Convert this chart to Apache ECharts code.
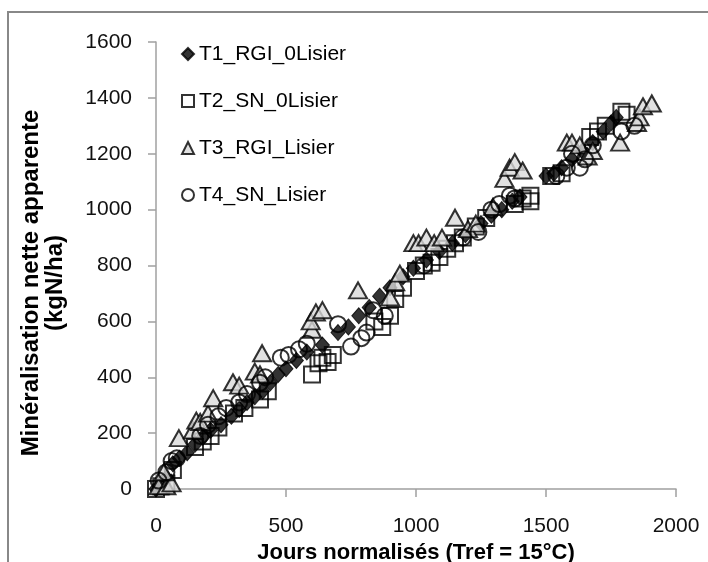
<!DOCTYPE html>
<html>
<head>
<meta charset="utf-8">
<script src="https://cdn.jsdelivr.net/npm/echarts@6/dist/echarts.min.js"></script>
<style>
html,body{margin:0;padding:0;background:#fff;}
#chart{width:708px;height:562px;}
</style>
</head>
<body>
<div id="chart"></div>
<script>
const seriesNames = ['T1_RGI_0Lisier', 'T2_SN_0Lisier', 'T3_RGI_Lisier', 'T4_SN_Lisier'];
const xTickValues = [0, 500, 1000, 1500, 2000];
const yTickValues = [0, 200, 400, 600, 800, 1000, 1200, 1400, 1600];
const xTitle = 'Jours normalisés (Tref = 15°C)';
const yTitle1 = 'Minéralisation nette apparente';
const yTitle2 = '(kgN/ha)';

const t1Data = [[0,0],[15,10],[40,40],[65,90],[90,110],[120,130],[150,160],[180,185],[210,210],[250,230],[290,260],[320,285],[350,310],[380,330],[410,350],[440,380],[470,410],[500,430],[540,460],[580,490],[640,515],[700,560],[740,580],[780,620],[820,650],[860,690],[900,720],[950,760],[990,790],[1040,820],[1090,850],[1140,880],[1190,910],[1250,950],[1290,980],[1330,1000],[1370,1030],[1400,1045],[1500,1120],[1530,1130],[1560,1150],[1600,1180],[1640,1210],[1680,1240],[1720,1280],[1750,1310],[1770,1330]];
const t2Data = [[0,0],[20,10],[40,20],[65,68],[150,150],[180,170],[210,190],[240,220],[300,270],[340,290],[400,320],[430,350],[600,410],[625,450],[640,470],[660,455],[680,480],[840,600],[870,580],[900,620],[920,680],[950,720],[1000,780],[1030,800],[1060,810],[1090,830],[1120,860],[1150,880],[1180,900],[1230,940],[1270,970],[1380,1020],[1410,1040],[1440,1050],[1440,1030],[1520,1120],[1560,1130],[1670,1260],[1700,1280],[1730,1300],[1790,1350],[1810,1340]];
const t3Data = [[10,10],[40,10],[60,20],[30,60],[88,182],[142,210],[155,245],[170,240],[200,270],[220,325],[296,382],[320,370],[380,420],[400,410],[408,486],[600,570],[595,600],[615,632],[640,640],[777,711],[900,686],[920,740],[938,771],[990,880],[1010,880],[1040,900],[1070,880],[1100,900],[1150,971],[1200,930],[1230,950],[1296,1010],[1340,1110],[1360,1150],[1380,1170],[1410,1140],[1580,1240],[1600,1240],[1630,1230],[1660,1190],[1680,1210],[1785,1240],[1850,1310],[1860,1330],[1873,1370],[1907,1380]];
const t4Data = [[10,30],[40,60],[60,100],[80,110],[170,190],[200,230],[240,260],[270,290],[320,310],[350,340],[400,380],[420,400],[480,470],[510,480],[550,500],[580,520],[700,590],[750,510],[790,540],[810,560],[835,640],[880,620],[1030,800],[1180,900],[1240,920],[1290,1000],[1320,1020],[1361,1050],[1380,1040],[1540,1120],[1580,1150],[1630,1150],[1650,1180],[1600,1200],[1680,1230],[1790,1280],[1840,1300]];

const FONT = '"Liberation Sans", Arial, sans-serif';
const chart = echarts.init(document.getElementById('chart'), null, {renderer: 'canvas'});

const option = {
  animation: false,
  backgroundColor: '#ffffff',
  grid: {left: 156, right: 32, top: 42, bottom: 73, containLabel: false, outerBoundsMode: 'none'},
  legend: {
    orient: 'vertical',
    left: 176,
    top: 37,
    itemWidth: 12,
    itemHeight: 12,
    itemGap: 23,
    textStyle: {fontFamily: FONT, fontSize: 21, color: '#000', lineHeight: 24},
    data: seriesNames
  },
  xAxis: {
    type: 'value', min: 0, max: 2000, interval: 500,
    splitLine: {show: false},
    axisLine: {show: true, lineStyle: {color: '#a0a0a0', width: 1.5}},
    axisTick: {show: true, length: 8, lineStyle: {color: '#a0a0a0', width: 1.5}},
    axisLabel: {fontFamily: FONT, fontSize: 21, color: '#111', margin: 27,
      formatter: v => xTickValues.includes(v) ? String(v) : ''},
    name: xTitle, nameLocation: 'middle', nameGap: 42,
    nameTextStyle: {fontFamily: FONT, fontSize: 22, fontWeight: 'bold', color: '#000'}
  },
  yAxis: {
    type: 'value', min: 0, max: 1600, interval: 200,
    splitLine: {show: false},
    axisLine: {show: true, lineStyle: {color: '#a0a0a0', width: 1.5}},
    axisTick: {show: true, length: 8, lineStyle: {color: '#a0a0a0', width: 1.5}},
    axisLabel: {fontFamily: FONT, fontSize: 21, color: '#111', margin: 24,
      formatter: v => yTickValues.includes(v) ? String(v) : ''}
  },
  graphic: [
    {type: 'line', shape: {x1: 7, y1: 12, x2: 708, y2: 12}, style: {stroke: '#888', lineWidth: 2}, silent: true},
    {type: 'line', shape: {x1: 8, y1: 12, x2: 8, y2: 562}, style: {stroke: '#888', lineWidth: 2}, silent: true},
    {type: 'text', x: 31, y: 283, rotation: Math.PI / 2,
      style: {text: yTitle1, fontFamily: FONT, fontSize: 24, fontWeight: 'bold', fill: '#000', textAlign: 'center', textVerticalAlign: 'middle'}},
    {type: 'text', x: 55, y: 283, rotation: Math.PI / 2,
      style: {text: yTitle2, fontFamily: FONT, fontSize: 24, fontWeight: 'bold', fill: '#000', textAlign: 'center', textVerticalAlign: 'middle'}}
  ],
  series: [
    {name: seriesNames[0], type: 'scatter', data: t1Data, symbol: 'diamond', symbolSize: [14, 16],
      itemStyle: {color: '#000', borderColor: '#000', borderWidth: 1}},
    {name: seriesNames[1], type: 'scatter', data: t2Data, symbol: 'rect', symbolSize: 16,
      itemStyle: {color: 'rgba(255,255,255,0)', borderColor: '#000', borderWidth: 2}},
    {name: seriesNames[2], type: 'scatter', data: t3Data, symbol: 'triangle', symbolSize: [18, 16],
      itemStyle: {color: '#d9d9d9', borderColor: '#000', borderWidth: 2}},
    {name: seriesNames[3], type: 'scatter', data: t4Data, symbol: 'circle', symbolSize: 16,
      itemStyle: {color: 'rgba(255,255,255,0)', borderColor: '#000', borderWidth: 2}}
  ]
};
chart.setOption(option);
</script>
</body>
</html>
